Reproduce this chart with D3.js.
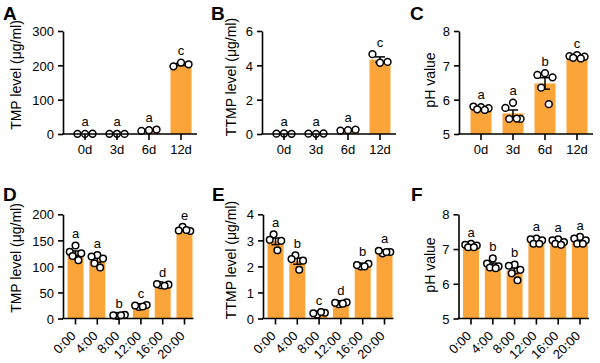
<!DOCTYPE html>
<html>
<head>
<meta charset="utf-8">
<style>
body { margin: 0; background: #fff; }
svg { display: block; }
text { font-family: "Liberation Sans", Arial, sans-serif; fill: #000; }
.tick text { font-size: 13px; }
.tick line, .domain, .axisline { stroke: #000; stroke-width: 1.6; }
.bar { fill: #FAA43A; }
.err { stroke: #000; stroke-width: 1.5; fill: none; }
.dot { fill: #fff; stroke: #000; stroke-width: 1.5; }
.letter { font-size: 13px; text-anchor: middle; }
.title { font-size: 14px; text-anchor: middle; }
.panel { font-size: 19px; font-weight: bold; }
</style>
</head>
<body>
<svg id="chart" width="600" height="363"></svg>
<script src="https://cdn.jsdelivr.net/npm/d3@7"></script>
<script>
// groups
var dayGroups = ["0d", "3d", "6d", "12d"];
var timeGroups = ["0:00", "4:00", "8:00", "12:00", "16:00", "20:00"];

// individual replicates
var tmpDays = [[0.5, 0.3, 0.8], [0.4, 0.6, 0.2], [9, 11, 13], [197, 208, 203]];
var ttmpDays = [[0.02, 0.03, 0.01], [0.02, 0.01, 0.03], [0.2, 0.22, 0.25], [4.65, 4.15, 4.2]];
var phDays = [[5.78, 5.8, 5.75, 5.72, 5.7], [5.91, 5.76, 5.44, 5.44, 5.45],
              [6.77, 6.72, 6.65, 6.35, 5.87], [7.3, 7.27, 7.25, 7.22, 7.2]];

var tmpTime = [[140, 128, 125, 120, 112], [122, 119, 115, 106, 98], [5, 6, 7, 6],
               [22, 25, 26, 23], [64, 66, 65, 63], [176, 169, 168, 170]];
var ttmpTime = [[3.23, 3.02, 2.98, 2.62], [2.43, 2.28, 2.22, 1.87], [0.15, 0.2, 0.22, 0.25],
                [0.55, 0.6, 0.62, 0.57], [2.0, 2.05, 2.1, 2.0], [2.5, 2.6, 2.55, 2.55]];
var phTime = [[7.15, 7.12, 7.1, 7.05, 7.05], [6.73, 6.58, 6.5, 6.47, 6.45], [6.55, 6.52, 6.4, 6.3, 6.1],
              [7.3, 7.28, 7.25, 7.15, 7.15], [7.28, 7.25, 7.2, 7.15, 7.12], [7.35, 7.3, 7.25, 7.15, 7.15]];

// significance letters
var lettersA = ["a", "a", "a", "c"];
var lettersB = ["a", "a", "a", "c"];
var lettersC = ["a", "a", "b", "c"];
var lettersD = ["a", "a", "b", "c", "d", "e"];
var lettersE = ["a", "b", "c", "d", "b", "a"];
var lettersF = ["a", "b", "b", "a", "a", "a"];

// y ticks
var ticksTmpDays = [0, 100, 200, 300];
var ticksTtmpDays = [0, 2, 4, 6];
var ticksPh = [5, 6, 7, 8];
var ticksTmpTime = [0, 50, 100, 150, 200];
var ticksTtmpTime = [0, 1, 2, 3, 4];

var svg = d3.select("#chart");

// horizontal scatter pattern for the replicate dots (fraction of half-spread)
var jitter = { 3: [-1, 0, 1], 4: [-0.33, -1, 1, 0.33], 5: [0, -1, 1, -0.5, 0.5] };

var rowTop = { y0: 134, y1: 31, off: 22, step: 32, bw: 21, tail: 16, cap: 5, r: 3.4, rotate: false, ly: 20 };
var rowBot = { y0: 318.5, y1: 214.3, off: 12.5, step: 21.8, bw: 16, tail: 9, cap: 4, r: 3.3, rotate: true, ly: 201 };

var panels = [
  { row: rowTop, ax: 63, label: "A", lx: 3, title: "TMP level (\u03bcg/ml)", ty: 75, tx: 16,
    groups: dayGroups, data: tmpDays, letters: lettersA, ticks: ticksTmpDays },
  { row: rowTop, ax: 262, label: "B", lx: 211, title: "TTMP level (\u03bcg/ml)", ty: 77, tx: 231,
    groups: dayGroups, data: ttmpDays, letters: lettersB, ticks: ticksTtmpDays },
  { row: rowTop, ax: 459, label: "C", lx: 410, title: "pH value", ty: 80, tx: 430,
    groups: dayGroups, data: phDays, letters: lettersC, ticks: ticksPh },
  { row: rowBot, ax: 63, label: "D", lx: 3, title: "TMP level (\u03bcg/ml)", ty: 258, tx: 16,
    groups: timeGroups, data: tmpTime, letters: lettersD, ticks: ticksTmpTime },
  { row: rowBot, ax: 263, label: "E", lx: 212, title: "TTMP level (\u03bcg/ml)", ty: 260, tx: 231,
    groups: timeGroups, data: ttmpTime, letters: lettersE, ticks: ticksTtmpTime },
  { row: rowBot, ax: 458.5, label: "F", lx: 411, title: "pH value", ty: 265, tx: 430,
    groups: timeGroups, data: phTime, letters: lettersF, ticks: ticksPh }
];

panels.forEach(drawPanel);

function drawPanel(p) {
  var row = p.row;
  var g = svg.append("g");
  var n = p.groups.length;
  var lo = p.ticks[0], hi = p.ticks[p.ticks.length - 1];

  var y = d3.scaleLinear().domain([lo, hi]).range([row.y0, row.y1]);
  var pin = 1 - row.bw / row.step;
  var x0 = p.ax + row.off - row.step / 2;
  var x = d3.scaleBand().domain(p.groups)
    .range([x0, x0 + n * row.step])
    .paddingInner(pin).paddingOuter(pin / 2);

  var stats = p.data.map(function(v, i) {
    var m = d3.mean(v);
    var se = d3.deviation(v) / Math.sqrt(v.length);
    return { g: p.groups[i], vals: v, mean: m, se: se, letter: p.letters[i] };
  });

  // bars
  g.selectAll(".bar").data(stats).enter().append("rect")
    .attr("class", "bar")
    .attr("x", function(d) { return x(d.g); })
    .attr("width", x.bandwidth())
    .attr("y", function(d) { return y(d.mean); })
    .attr("height", function(d) { return y(lo) - y(d.mean); });

  // error bars (mean +/- SEM)
  var eb = g.selectAll(".eb").data(stats).enter().append("g");
  eb.append("line").attr("class", "err")
    .attr("x1", function(d) { return x(d.g) + x.bandwidth() / 2; })
    .attr("x2", function(d) { return x(d.g) + x.bandwidth() / 2; })
    .attr("y1", function(d) { return y(d.mean - d.se); })
    .attr("y2", function(d) { return y(d.mean + d.se); });
  [1, -1].forEach(function(s) {
    eb.append("line").attr("class", "err")
      .attr("x1", function(d) { return x(d.g) + x.bandwidth() / 2 - row.cap; })
      .attr("x2", function(d) { return x(d.g) + x.bandwidth() / 2 + row.cap; })
      .attr("y1", function(d) { return y(d.mean + s * d.se); })
      .attr("y2", function(d) { return y(d.mean + s * d.se); });
  });

  // replicate points
  stats.forEach(function(d) {
    var pat = jitter[d.vals.length];
    var spread = x.bandwidth() * 0.36;
    var cx = x(d.g) + x.bandwidth() / 2;
    g.selectAll(null).data(d.vals).enter().append("circle")
      .attr("class", "dot")
      .attr("r", row.r)
      .attr("cx", function(v, j) { return cx + spread * pat[j]; })
      .attr("cy", function(v) { return y(v); });
  });

  // letters
  g.selectAll(".letter").data(stats).enter().append("text")
    .attr("class", "letter")
    .attr("x", function(d) { return x(d.g) + x.bandwidth() / 2; })
    .attr("y", function(d) {
      var topv = Math.max(d3.max(d.vals), d.mean + d.se);
      return y(topv) - row.r - 4;
    })
    .text(function(d) { return d.letter; });

  // y axis
  var ya = g.append("g")
    .attr("transform", "translate(" + p.ax + ",0)")
    .call(d3.axisLeft(y).tickValues(p.ticks).tickFormat(d3.format("~g"))
      .tickSize(5).tickSizeOuter(0).tickPadding(4));
  ya.selectAll(".tick text").attr("dy", "0.36em");

  // x axis
  var xa = g.append("g")
    .attr("transform", "translate(0," + row.y0 + ")")
    .call(d3.axisBottom(x).tickSize(6).tickPadding(5));
  xa.select(".domain").remove();
  if (row.rotate) {
    xa.selectAll(".tick text")
      .attr("text-anchor", "end")
      .attr("dy", "0.35em")
      .attr("x", 0).attr("y", 0)
      .attr("transform", "translate(-2,15) rotate(-45)");
  }
  g.append("line").attr("class", "axisline")
    .attr("x1", p.ax - 0.8).attr("x2", p.ax + row.off + (n - 1) * row.step + row.tail)
    .attr("y1", row.y0).attr("y2", row.y0);

  // axis title
  g.append("text").attr("class", "title")
    .attr("transform", "translate(" + p.tx + "," + p.ty + ") rotate(-90)")
    .attr("dy", "0.35em")
    .text(p.title);

  // panel letter
  g.append("text").attr("class", "panel")
    .attr("x", p.lx).attr("y", row.ly)
    .text(p.label);
}
</script>
</body>
</html>
